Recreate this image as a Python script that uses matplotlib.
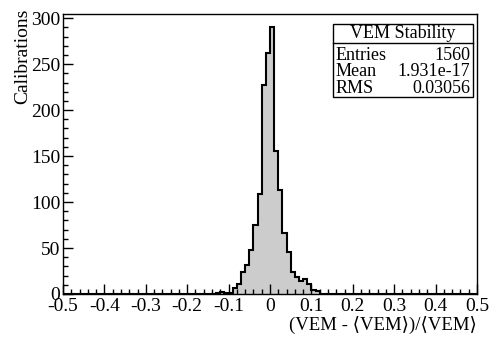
import numpy as np
import matplotlib
matplotlib.use("Agg")
from matplotlib import pyplot as plt
from matplotlib.ticker import MultipleLocator, FuncFormatter

# histogram content, 100 bins of width 0.01 between -0.5 and 0.5
bin_lo = -0.5
bin_width = 0.01
n_bins = 100
# non-empty bins: (lower edge, count)
bin_starts = [-0.13, -0.12, -0.11, -0.10, -0.09, -0.08, -0.07, -0.06, -0.05, -0.04,
              -0.03, -0.02, -0.01, 0.00, 0.01, 0.02, 0.03, 0.04, 0.05, 0.06,
              0.07, 0.08, 0.09, 0.10, 0.11]
bin_counts = [1, 2, 1, 1, 7, 11, 24, 31, 48, 75,
              109, 227, 262, 290, 156, 113, 66, 46, 24, 19,
              14, 16, 11, 4, 3]

stats_title = "VEM Stability"
stats_names = ["Entries", "Mean", "RMS"]
stats_values = ["1560", "1.931e-17", "0.03056"]

edges = bin_lo + bin_width * np.arange(n_bins + 1)
counts = np.zeros(n_bins)
for s, c in zip(bin_starts, bin_counts):
    counts[int(round((s - bin_lo) / bin_width))] = c

plt.rcParams['font.family'] = ['Liberation Serif', 'DejaVu Serif', 'DejaVu Sans']
plt.rcParams['axes.unicode_minus'] = False

fig = plt.figure(figsize=(4.98, 3.41), dpi=100)
ax = fig.add_axes([63 / 498, 47 / 341, 414 / 498, 280 / 341])

ax.stairs(counts, edges, fill=True, color='#cccccc', baseline=0)
ax.stairs(counts, edges, color='black', linewidth=1.5, baseline=0)

ax.set_xlim(-0.5, 0.5)
ax.set_ylim(0, 304.5)

ax.xaxis.set_major_locator(MultipleLocator(0.1))
ax.xaxis.set_minor_locator(MultipleLocator(0.02))
ax.yaxis.set_major_locator(MultipleLocator(50))
ax.yaxis.set_minor_locator(MultipleLocator(10))
ax.xaxis.set_major_formatter(FuncFormatter(lambda v, p: "%g" % round(v, 2)))
ax.tick_params(which='both', direction='in', top=False, right=False, labelsize=14)
ax.tick_params(which='major', length=7, width=1)
ax.tick_params(which='minor', length=3.5, width=1)
ax.tick_params(axis='x', pad=3)
ax.tick_params(axis='y', pad=2)
for sp in ax.spines.values():
    sp.set_linewidth(1.0)

fig.text(23 / 498, 1 - 9 / 341, "Calibrations", rotation=90, ha='center', va='top', fontsize=14)
fig.text(477 / 498, 1 - 325 / 341, "(VEM - \u27e8VEM\u27e9)/\u27e8VEM\u27e9", ha='right', va='center', fontsize=13.5)

# stats box
bx0, bx1 = 333 / 498, 473 / 498
by_top, by_sep, by_bot = 1 - 24 / 341, 1 - 43 / 341, 1 - 97 / 341
box = plt.Rectangle((bx0, by_bot), bx1 - bx0, by_top - by_bot, transform=fig.transFigure,
                    facecolor='white', edgecolor='black', linewidth=1.0)
fig.add_artist(box)
fig.add_artist(plt.Line2D([bx0, bx1], [by_sep, by_sep], transform=fig.transFigure,
                          color='black', linewidth=1.0))
fig.text((bx0 + bx1) / 2, 1 - 33.5 / 341, stats_title, ha='center', va='center', fontsize=13)
row_y = [55.5, 72, 88.5]
for name, val, y in zip(stats_names, stats_values, row_y):
    fig.text(bx0 + 3 / 498, 1 - y / 341, name, ha='left', va='center', fontsize=13)
    fig.text(bx1 - 3 / 498, 1 - y / 341, val, ha='right', va='center', fontsize=13)

fig.savefig("out.png", dpi=100)
